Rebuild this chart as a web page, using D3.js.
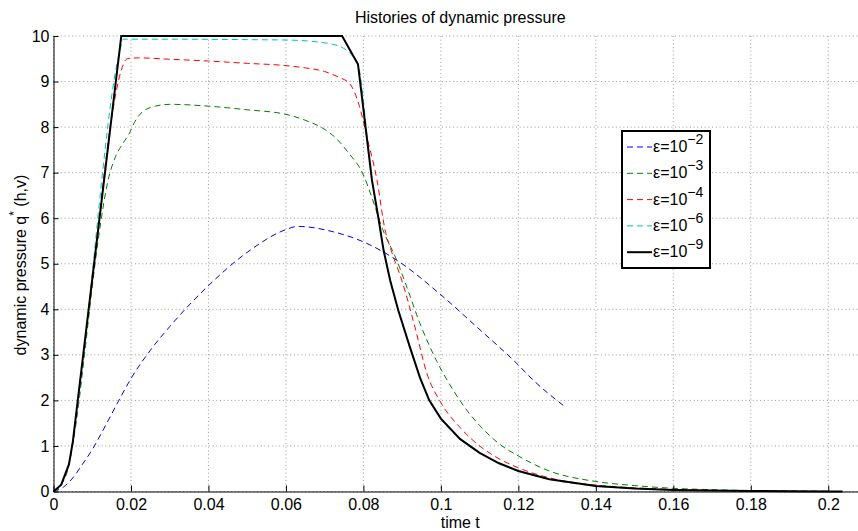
<!doctype html>
<html lang="en">
<head>
<meta charset="utf-8">
<title>Histories of dynamic pressure</title>
<script src="https://d3js.org/d3.v7.min.js"></script>
<style>
  body { margin: 0; background: #fff; }
  svg { display: block; font-family: "Liberation Sans", Arial, Helvetica, sans-serif; }
</style>
</head>
<body>
<div id="chart"></div>
<script>
// values
var xTicks = [0, 0.02, 0.04, 0.06, 0.08, 0.1, 0.12, 0.14, 0.16, 0.18, 0.2];
var yTicks = [0, 1, 2, 3, 4, 5, 6, 7, 8, 9, 10];

// eps = 1e-2
var tBlue = [0, 0.0026, 0.005, 0.0075, 0.01, 0.0125, 0.015, 0.0175, 0.02, 0.025, 0.03, 0.04, 0.05, 0.06, 0.063, 0.0723, 0.08, 0.0886, 0.0997, 0.1093, 0.1196, 0.1239, 0.1316];
var qBlue = [0, 0.1, 0.3, 0.6, 0.92, 1.3, 1.7, 2.1, 2.48, 3.1, 3.62, 4.52, 5.25, 5.75, 5.82, 5.7, 5.48, 5.08, 4.34, 3.61, 2.81, 2.44, 1.89];

// eps = 1e-3
var tGreen = [0, 0.002, 0.004, 0.006, 0.008, 0.01, 0.012, 0.014, 0.016, 0.018, 0.0195, 0.021, 0.025, 0.03, 0.04, 0.05, 0.06, 0.065, 0.07, 0.073, 0.076, 0.08, 0.0822, 0.085, 0.0886, 0.0912, 0.0946, 0.099, 0.103, 0.107, 0.11, 0.115, 0.12, 0.128, 0.14, 0.15, 0.16, 0.17, 0.18, 0.19, 0.2];
var qGreen = [0, 0.15, 0.6, 1.6, 3.0, 4.5, 5.8, 6.8, 7.35, 7.65, 7.85, 8.12, 8.43, 8.5, 8.46, 8.38, 8.28, 8.15, 7.95, 7.75, 7.45, 6.95, 6.45, 5.75, 5.08, 4.49, 3.69, 2.85, 2.25, 1.75, 1.45, 1.05, 0.78, 0.45, 0.22, 0.13, 0.07, 0.04, 0.02, 0.01, 0.005];

// eps = 1e-4
var tRed = [0, 0.002, 0.004, 0.005, 0.01, 0.015, 0.0175, 0.019, 0.022, 0.03, 0.04, 0.05, 0.06, 0.065, 0.07, 0.0735, 0.0765, 0.079, 0.081, 0.0835, 0.0856, 0.0873, 0.0899, 0.0933, 0.0964, 0.1, 0.105, 0.11, 0.115, 0.12, 0.128, 0.14, 0.15, 0.16, 0.17, 0.18, 0.19, 0.2];
var qRed = [0, 0.15, 0.6, 1.1, 4.6, 8.2, 9.25, 9.5, 9.52, 9.49, 9.45, 9.4, 9.35, 9.3, 9.22, 9.1, 8.95, 8.45, 7.75, 6.84, 5.74, 5.26, 4.64, 3.61, 2.59, 1.95, 1.4, 1.0, 0.72, 0.52, 0.3, 0.14, 0.08, 0.045, 0.025, 0.012, 0.006, 0.003];

// eps = 1e-6
var tCyan = [0, 0.002, 0.004, 0.005, 0.0172, 0.018, 0.03, 0.05, 0.061, 0.068, 0.072, 0.0745, 0.077, 0.0786, 0.0822, 0.0839, 0.0852, 0.0869, 0.089, 0.092, 0.0946, 0.097, 0.1, 0.105, 0.11, 0.115, 0.12, 0.128, 0.14, 0.15, 0.16, 0.17, 0.18, 0.19, 0.2];
var qCyan = [0, 0.15, 0.6, 1.1, 9.7, 9.93, 9.93, 9.92, 9.91, 9.87, 9.82, 9.75, 9.58, 9.38, 6.84, 5.99, 5.3, 4.64, 3.98, 3.17, 2.5, 2.0, 1.6, 1.15, 0.85, 0.62, 0.45, 0.27, 0.12, 0.065, 0.035, 0.02, 0.01, 0.005, 0.002];

// eps = 1e-9
var tBlack = [0, 0.002, 0.004, 0.005, 0.0175, 0.0745, 0.0786, 0.0822, 0.0839, 0.0852, 0.0869, 0.089, 0.092, 0.0946, 0.097, 0.1, 0.105, 0.11, 0.115, 0.12, 0.128, 0.14, 0.15, 0.16, 0.17, 0.18, 0.19, 0.2, 0.2037];
var qBlack = [0, 0.15, 0.6, 1.1, 10, 10, 9.38, 6.84, 5.99, 5.3, 4.64, 3.98, 3.17, 2.5, 2.0, 1.6, 1.15, 0.85, 0.62, 0.45, 0.27, 0.12, 0.065, 0.035, 0.02, 0.01, 0.005, 0.002, 0];

var series = [
  {exp: "−2", t: tBlue,  q: qBlue,  color: "#0000ff", dash: "6,4", w: 1,   curve: d3.curveMonotoneX},
  {exp: "−3", t: tGreen, q: qGreen, color: "#008000", dash: "6,4", w: 1,   curve: d3.curveMonotoneX},
  {exp: "−4", t: tRed,   q: qRed,   color: "#ff0000", dash: "6,4", w: 1,   curve: d3.curveMonotoneX},
  {exp: "−6", t: tCyan,  q: qCyan,  color: "#00bfbf", dash: "6,4", w: 1,   curve: d3.curveMonotoneX},
  {exp: "−9", t: tBlack, q: qBlack, color: "#000000", dash: null,  w: 2,   curve: d3.curveLinear}
];

var W = 858, H = 531;
var margin = {left: 53.5, top: 36, right: -9, bottom: 39.5};
var width = W - margin.left - margin.right,
    height = H - margin.top - margin.bottom;

var svg = d3.select("#chart").append("svg")
  .attr("width", W).attr("height", H);

var g = svg.append("g")
  .attr("transform", "translate(" + margin.left + "," + margin.top + ")");

var x = d3.scaleLinear().domain([0, 0.21]).range([0, width]);
var y = d3.scaleLinear().domain([0, 10]).range([height, 0]);

// dotted grid
g.append("g").selectAll("line").data(xTicks).enter().append("line")
  .attr("x1", function(d) { return x(d); }).attr("x2", function(d) { return x(d); })
  .attr("y1", 0).attr("y2", height)
  .attr("stroke", "#999").attr("stroke-width", 1).attr("stroke-dasharray", "1,2.7");
g.append("g").selectAll("line").data(yTicks).enter().append("line")
  .attr("x1", 0).attr("x2", width)
  .attr("y1", function(d) { return y(d); }).attr("y2", function(d) { return y(d); })
  .attr("stroke", "#999").attr("stroke-width", 1).attr("stroke-dasharray", "1,2.7");

// curves
series.forEach(function(s) {
  var pts = s.t.map(function(t, i) { return [t, s.q[i]]; });
  var line = d3.line()
    .x(function(d) { return x(d[0]); })
    .y(function(d) { return y(d[1]); })
    .curve(s.curve);
  g.append("path")
    .datum(pts)
    .attr("d", line)
    .attr("fill", "none")
    .attr("stroke", s.color)
    .attr("stroke-width", s.w)
    .attr("stroke-dasharray", s.dash);
});

// axes, ticks inside like matlab
var xAxis = g.append("g")
  .attr("transform", "translate(0," + height + ")")
  .call(d3.axisBottom(x).tickValues(xTicks).tickSizeInner(-6).tickSizeOuter(0).tickPadding(7)
    .tickFormat(function(d) { return d3.format("~g")(d); }));
var yAxis = g.append("g")
  .call(d3.axisLeft(y).tickValues(yTicks).tickSizeInner(-5).tickSizeOuter(0).tickPadding(4));

[xAxis, yAxis].forEach(function(a) {
  a.selectAll("text").style("font-size", "16px").attr("fill", "#000")
    .style("font-family", "'Liberation Sans', Arial, sans-serif");
  a.selectAll("line").attr("stroke", "#000");
  a.select(".domain").attr("stroke", "#000");
});

// title and labels
svg.append("text")
  .attr("x", margin.left + width / 2).attr("y", 23)
  .attr("text-anchor", "middle").style("font-size", "16px")
  .text("Histories of dynamic pressure");

svg.append("text")
  .attr("x", margin.left + width / 2).attr("y", 528)
  .attr("text-anchor", "middle").style("font-size", "16px")
  .text("time t");

var ylab = svg.append("text")
  .attr("transform", "translate(26,265) rotate(-90)")
  .attr("text-anchor", "middle").style("font-size", "16px");
ylab.append("tspan").text("dynamic pressure q");
ylab.append("tspan").attr("dy", -8).style("font-size", "12px").text("*");
ylab.append("tspan").attr("dy", 8).text(" (h,v)");

// legend
var leg = svg.append("g").attr("transform", "translate(622,131)");
leg.append("rect")
  .attr("width", 88).attr("height", 137)
  .attr("fill", "#fff").attr("stroke", "#000").attr("stroke-width", 2);
series.forEach(function(s, i) {
  var ry = 16 + i * 26.3;
  leg.append("line")
    .attr("x1", 5).attr("x2", 30).attr("y1", ry).attr("y2", ry)
    .attr("stroke", s.color).attr("stroke-width", s.w)
    .attr("stroke-dasharray", s.dash);
  var tx = leg.append("text")
    .attr("x", 31).attr("y", ry + 5).style("font-size", "16px");
  tx.append("tspan").text("ε=10");
  tx.append("tspan").attr("dy", -8).style("font-size", "14px").text(s.exp);
});
</script>
</body>
</html>
